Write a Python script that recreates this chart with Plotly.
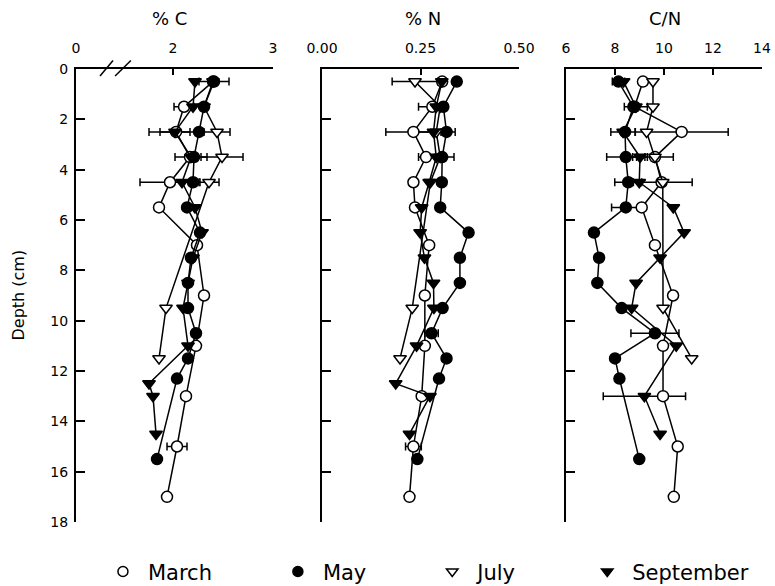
import plotly.graph_objects as go

# ---------------- data ----------------
months = ["March", "May", "July", "September"]

march_depth = [0.5, 1.5, 2.5, 3.5, 4.5, 5.5, 7, 9, 11, 13, 15, 17]
march_c = [2.40, 2.11, 2.03, 2.17, 1.97, 1.86, 2.24, 2.31, 2.23, 2.13, 2.04, 1.94]
march_c_err = [0, 0.10, 0.27, 0, 0.30, 0, 0, 0, 0, 0, 0.10, 0]
march_n = [0.305, 0.28, 0.232, 0.264, 0.232, 0.236, 0.272, 0.261, 0.261, 0.253, 0.232, 0.222]
march_n_err = [0, 0.035, 0.07, 0, 0, 0, 0, 0, 0, 0, 0.02, 0]
march_cn = [9.14, 8.8, 10.72, 9.63, 9.9, 9.09, 9.63, 10.37, 9.96, 9.96, 10.56, 10.4]
march_cn_err = [0, 0, 1.9, 0.75, 0, 0, 0, 0, 0, 0, 0, 0]

may_depth = [0.5, 1.5, 2.5, 3.5, 4.5, 5.5, 6.5, 7.5, 8.5, 9.5, 10.5, 11.5, 12.3, 15.5]
may_c = [2.41, 2.31, 2.26, 2.21, 2.20, 2.14, 2.27, 2.18, 2.15, 2.15, 2.23, 2.15, 2.04, 1.84]
may_c_err = [0.15, 0, 0, 0, 0, 0, 0, 0, 0, 0, 0, 0, 0, 0]
may_n = [0.342, 0.308, 0.316, 0.305, 0.304, 0.30, 0.372, 0.350, 0.350, 0.306, 0.278, 0.316, 0.297, 0.242]
may_n_err = [0, 0, 0, 0, 0, 0, 0, 0, 0, 0, 0.017, 0, 0, 0]
may_cn = [8.14, 8.75, 8.41, 8.44, 8.54, 8.44, 7.14, 7.35, 7.28, 8.27, 9.63, 8.0, 8.18, 8.99]
may_cn_err = [0.25, 0, 0, 0.78, 0.55, 0.58, 0, 0, 0, 0, 0.98, 0, 0, 0]

july_depth = [0.5, 1.5, 2.5, 3.5, 4.5, 9.5, 11.5]
july_c = [2.40, 2.31, 2.44, 2.49, 2.36, 1.93, 1.86]
july_c_err = [0, 0, 0.13, 0.21, 0.10, 0, 0]
july_n = [0.236, 0.30, 0.29, 0.30, 0.275, 0.229, 0.198]
july_n_err = [0.058, 0, 0, 0, 0, 0, 0]
july_cn = [9.55, 9.55, 9.29, 9.63, 9.95, 9.96, 11.13]
july_cn_err = [0, 0, 0, 0, 1.2, 0, 0]

sept_depth = [0.5, 1.5, 2.5, 3.5, 4.5, 5.5, 6.5, 7.5, 8.5, 9.5, 11, 12.5, 13, 14.5]
sept_c = [2.22, 2.20, 2.02, 2.18, 2.09, 2.22, 2.29, 2.20, 2.15, 2.10, 2.15, 1.76, 1.80, 1.83]
sept_c_err = [0, 0, 0.15, 0.16, 0, 0, 0, 0, 0, 0, 0, 0, 0, 0]
sept_n = [0.304, 0.29, 0.283, 0.29, 0.272, 0.253, 0.249, 0.26, 0.283, 0.284, 0.240, 0.187, 0.274, 0.222]
sept_n_err = [0, 0, 0.055, 0.045, 0, 0, 0, 0, 0, 0, 0, 0, 0, 0]
sept_depth_cn = [0.5, 1.5, 2.5, 3.5, 4.5, 5.5, 6.5, 7.5, 8.5, 9.5, 11, 13, 14.5]
sept_cn = [8.35, 8.85, 8.33, 9.02, 8.99, 10.38, 10.82, 9.84, 8.86, 8.68, 10.5, 9.2, 9.84]
sept_cn_err = [0, 0.47, 0.5, 0.3, 0, 0, 0, 0, 0, 0, 0, 1.68, 0]

panel_titles = ["% C", "% N", "C/N"]
c_ticks = [1.03, 2, 3]
c_ticktext = ["0", "2", "3"]
n_ticks = [0.0, 0.25, 0.5]
n_ticktext = ["0.00", "0.25", "0.50"]
cn_ticks = [6, 8, 10, 12, 14]
depth_ticks = [0, 2, 4, 6, 8, 10, 12, 14, 16, 18]

# ---------------- styles ----------------
FONT = "DejaVu Sans"
styles = {
    "March": dict(symbol="circle", color="white"),
    "May": dict(symbol="circle", color="black"),
    "July": dict(symbol="triangle-down", color="white"),
    "September": dict(symbol="triangle-down", color="black"),
}

series = {
    "March": [(march_depth, march_c, march_c_err), (march_depth, march_n, march_n_err), (march_depth, march_cn, march_cn_err)],
    "July": [(july_depth, july_c, july_c_err), (july_depth, july_n, july_n_err), (july_depth, july_cn, july_cn_err)],
    "May": [(may_depth, may_c, may_c_err), (may_depth, may_n, may_n_err), (may_depth, may_cn, may_cn_err)],
    "September": [(sept_depth, sept_c, sept_c_err), (sept_depth, sept_n, sept_n_err), (sept_depth_cn, sept_cn, sept_cn_err)],
}

fig = go.Figure()
axes_ids = [("x", "y"), ("x2", "y2"), ("x3", "y3")]

# error bars first (behind markers)
for name, panels in series.items():
    for (xa, ya), (d, v, e) in zip(axes_ids, panels):
        dd = [di for di, ei in zip(d, e) if ei > 0]
        vv = [vi for vi, ei in zip(v, e) if ei > 0]
        ee = [ei for ei in e if ei > 0]
        if not dd:
            continue
        fig.add_trace(go.Scatter(
            x=vv, y=dd, xaxis=xa, yaxis=ya, mode="markers",
            marker=dict(size=1, color="rgba(0,0,0,0)"),
            error_x=dict(type="data", array=ee, visible=True, color="black",
                         thickness=1.5, width=4),
            showlegend=False, hoverinfo="skip", cliponaxis=False))

for name, panels in series.items():
    st = styles[name]
    for (xa, ya), (d, v, e) in zip(axes_ids, panels):
        fig.add_trace(go.Scatter(
            x=v, y=d, xaxis=xa, yaxis=ya, mode="lines+markers",
            line=dict(color="black", width=1.5),
            marker=dict(symbol=st["symbol"], size=11, color=st["color"],
                        line=dict(color="black", width=1.5)),
            showlegend=False, cliponaxis=False, name=name))

# legend-only entries, one legend per item
legend_x = [0.032, 0.287, 0.512, 0.738]
for i, name in enumerate(months):
    st = styles[name]
    lg = "legend" if i == 0 else f"legend{i+1}"
    fig.add_trace(go.Scatter(
        x=[None], y=[None], mode="markers", name=name,
        marker=dict(symbol=st["symbol"], size=10, color=st["color"],
                    line=dict(color="black", width=1.5)),
        showlegend=True, legend=lg))

# ---------------- layout ----------------
doms = [[0.0, 0.2872], [0.3586, 0.6458], [0.7143, 1.0]]
x_common = dict(side="top", showline=True, linecolor="black", linewidth=2,
                ticks="inside", ticklen=6, tickwidth=1.5, tickcolor="black",
                showgrid=False, zeroline=False, mirror=False,
                tickfont=dict(family=FONT, size=14, color="black"),
                ticklabelstandoff=8)
y_common = dict(range=[18, 0], showline=True, linecolor="black", linewidth=2,
                ticks="inside", ticklen=9, tickwidth=1.5, tickcolor="black",
                tickvals=depth_ticks, showgrid=False, zeroline=False,
                tickfont=dict(family=FONT, size=14, color="black"))

layout = dict(
    width=775, height=586,
    margin=dict(l=76, r=13, t=69, b=63.5, autoexpand=False),
    paper_bgcolor="white", plot_bgcolor="white",
    font=dict(family=FONT, color="black"),
    xaxis=dict(domain=doms[0], anchor="y", range=[1.03, 3.0], tickvals=c_ticks,
               ticktext=c_ticktext, **x_common),
    xaxis2=dict(domain=doms[1], anchor="y2", range=[0, 0.5], tickvals=n_ticks,
                ticktext=n_ticktext, **x_common),
    xaxis3=dict(domain=doms[2], anchor="y3", range=[6, 14], tickvals=cn_ticks, **x_common),
    yaxis=dict(anchor="x", showticklabels=True, ticklabelstandoff=3, **y_common),
    yaxis2=dict(anchor="x2", showticklabels=False, **y_common),
    yaxis3=dict(anchor="x3", showticklabels=False, **y_common),
)
for i, lx in enumerate(legend_x):
    key = "legend" if i == 0 else f"legend{i+1}"
    layout[key] = dict(x=lx, y=-0.11, xanchor="left", yanchor="middle",
                       orientation="h", font=dict(family=FONT, size=21, color="black"),
                       bgcolor="rgba(0,0,0,0)", itemwidth=40)
fig.update_layout(**layout)

title_x = [0.137, 0.506, 0.8586]
for tx, t in zip(title_x, panel_titles):
    fig.add_annotation(x=tx, y=1.1125, xref="paper", yref="paper", text=t,
                       showarrow=False, font=dict(family=FONT, size=18, color="black"),
                       xanchor="center", yanchor="middle")
fig.add_annotation(x=-0.0845, y=0.5, xref="paper", yref="paper", text="Depth (cm)",
                   textangle=-90, showarrow=False,
                   font=dict(family=FONT, size=16, color="black"),
                   xanchor="center", yanchor="middle")

# axis break marks on the %C axis
for x0, x1 in [(0.035, 0.054), (0.057, 0.080)]:
    fig.add_shape(type="line", xref="paper", yref="paper", x0=x0, x1=x1,
                  y0=0.9846, y1=1.0187, line=dict(color="black", width=1.5))

fig.write_html("out.html")
